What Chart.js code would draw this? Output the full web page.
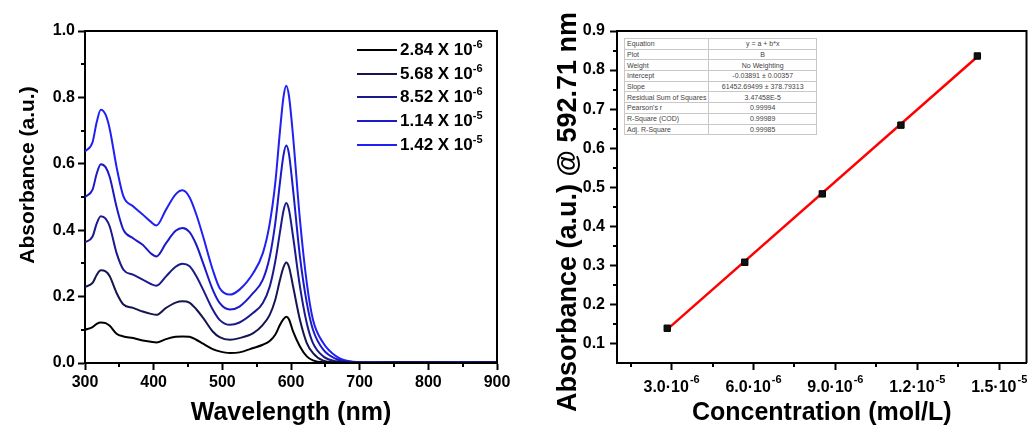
<!DOCTYPE html>
<html>
<head>
<meta charset="utf-8">
<title>UV-Vis spectra and calibration</title>
<script src="https://cdn.jsdelivr.net/npm/chart.js@4.4.1/dist/chart.umd.min.js"></script>
<style>
  body { margin: 0; background: #fff; font-family: 'Liberation Sans', Arial, sans-serif; }
  #wrap { position: relative; width: 1032px; height: 428px; overflow: hidden; background: #fff; }
  canvas { position: absolute; top: 0; }
  #spectraChart { left: 0; }
  #calibChart { left: 516px; }
  #legend { position: absolute; left: 357px; top: 38px; font-weight: bold; font-size: 17px; color: #000; }
  .legend-row { display: flex; align-items: center; height: 23.75px; }
  .legend-line { width: 40px; height: 2px; margin-right: 3px; }
  .legend-row sup { font-size: 11px; line-height: 0; }
  #fitTable { position: absolute; left: 624px; top: 38px; width: 193px; border-collapse: collapse;
              font-size: 7px; color: #444; background: #fff; }
  #fitTable td { border: 1px solid #c8c8c8; height: 9.7px; padding: 0 2px; line-height: 9px; white-space: nowrap; }
  #fitTable td:last-child { text-align: center; width: 110px; }
</style>
</head>
<body>
<div id="wrap">
  <canvas id="spectraChart" width="516" height="428"></canvas>
  <canvas id="calibChart" width="516" height="428"></canvas>
  <div id="legend"></div>
  <table id="fitTable"></table>
</div>
<script>
// ---- Left panel: absorption spectra ----
const wavelengths = [300, 311, 317, 323, 330, 336, 346, 356, 370, 384, 396, 404, 418, 432, 442, 452, 462, 472, 486, 496,
                     511, 525, 545, 559, 569, 577, 584, 589, 593, 597, 603, 613, 623, 632, 647, 666, 690, 720, 780, 840, 900];

const abs284 = [0.100, 0.108, 0.118, 0.122, 0.120, 0.112, 0.088, 0.080, 0.075, 0.068, 0.064, 0.062, 0.072, 0.079, 0.080, 0.079, 0.070, 0.058, 0.042, 0.035,
                0.030, 0.032, 0.045, 0.055, 0.066, 0.085, 0.115, 0.132, 0.139, 0.132, 0.095, 0.050, 0.020, 0.008, 0.002, 0.001, 0.000, 0.000, 0.001, 0.000, 0.001];
const abs568 = [0.229, 0.241, 0.265, 0.279, 0.276, 0.261, 0.211, 0.176, 0.166, 0.155, 0.148, 0.145, 0.166, 0.182, 0.186, 0.182, 0.162, 0.136, 0.095, 0.078,
                0.070, 0.075, 0.090, 0.115, 0.145, 0.190, 0.251, 0.288, 0.303, 0.290, 0.231, 0.130, 0.060, 0.030, 0.007, 0.002, 0.001, 0.001, 0.001, 0.001, 0.001];
const abs852 = [0.363, 0.381, 0.420, 0.442, 0.435, 0.411, 0.331, 0.281, 0.266, 0.251, 0.238, 0.233, 0.261, 0.290, 0.299, 0.292, 0.262, 0.221, 0.161, 0.130,
                0.115, 0.122, 0.151, 0.181, 0.230, 0.305, 0.395, 0.458, 0.482, 0.462, 0.381, 0.231, 0.120, 0.060, 0.020, 0.005, 0.002, 0.001, 0.002, 0.001, 0.002];
const abs1140 = [0.500, 0.522, 0.570, 0.599, 0.590, 0.560, 0.470, 0.401, 0.376, 0.356, 0.330, 0.321, 0.361, 0.398, 0.407, 0.395, 0.357, 0.301, 0.221, 0.181,
                 0.161, 0.170, 0.211, 0.251, 0.320, 0.420, 0.545, 0.625, 0.655, 0.630, 0.522, 0.321, 0.181, 0.100, 0.040, 0.012, 0.003, 0.002, 0.002, 0.002, 0.002];
const abs1420 = [0.637, 0.665, 0.725, 0.763, 0.748, 0.705, 0.590, 0.502, 0.472, 0.447, 0.425, 0.414, 0.462, 0.508, 0.520, 0.500, 0.448, 0.381, 0.281, 0.226,
                 0.206, 0.221, 0.271, 0.331, 0.420, 0.540, 0.700, 0.800, 0.835, 0.805, 0.683, 0.432, 0.241, 0.130, 0.060, 0.020, 0.004, 0.002, 0.002, 0.003, 0.002];

const spectra = [abs284, abs568, abs852, abs1140, abs1420];
const concMantissa = ['2.84', '5.68', '8.52', '1.14', '1.42'];
const concExponent = ['-6', '-6', '-6', '-5', '-5'];
const seriesColors = ['#000000', '#15154f', '#1a1a8c', '#1a1ac8', '#2020f5'];

const spectraTicksX = [300, 400, 500, 600, 700, 800, 900];
const spectraMinorX = [350, 450, 550, 650, 750, 850];
const spectraTicksY = [0, 0.2, 0.4, 0.6, 0.8, 1.0];
const spectraMinorY = [0.1, 0.3, 0.5, 0.7, 0.9];

// ---- Right panel: calibration at 592.71 nm ----
const concValues = [2.84e-6, 5.68e-6, 8.52e-6, 1.14e-5, 1.42e-5];
const peakAbs = [0.139, 0.308, 0.483, 0.659, 0.836];
const fitX = [2.84e-6, 1.42e-5];
const fitY = [0.136, 0.834];

const calibTicksX = [3e-6, 6e-6, 9e-6, 1.2e-5, 1.5e-5];
const calibMinorX = [1.5e-6, 4.5e-6, 7.5e-6, 1.05e-5, 1.35e-5];
const calibTicksY = [0.1, 0.2, 0.3, 0.4, 0.5, 0.6, 0.7, 0.8, 0.9];
const calibMinorY = [0.15, 0.25, 0.35, 0.45, 0.55, 0.65, 0.75, 0.85];

const fitRows = [
    ['Equation', 'y = a + b*x'],
    ['Plot', 'B'],
    ['Weight', 'No Weighting'],
    ['Intercept', '-0.03891 \u00b1 0.00357'],
    ['Slope', '61452.69499 \u00b1 378.79313'],
    ['Residual Sum of Squares', '3.47458E-5'],
    ["Pearson's r", '0.99994'],
    ['R-Square (COD)', '0.99989'],
    ['Adj. R-Square', '0.99985']
];

const FONT = "'Liberation Sans', Arial, sans-serif";

document.addEventListener('DOMContentLoaded', function() {
    buildLegend();
    buildFitTable();
    initializeSpectraChart();
    initializeCalibChart();
});

// Box outline plus short minor ticks
const framePlugin = {
    id: 'frame',
    afterDraw(chart, args, opts) {
        const { ctx, chartArea: a, scales } = chart;
        ctx.save();
        ctx.strokeStyle = '#000';
        ctx.lineWidth = 2;
        ctx.beginPath();
        ctx.moveTo(a.left, a.top);
        ctx.lineTo(a.right, a.top);
        ctx.lineTo(a.right, a.bottom);
        (opts.minorX || []).forEach(v => {
            const px = Math.round(scales.x.getPixelForValue(v));
            ctx.moveTo(px, a.bottom);
            ctx.lineTo(px, a.bottom + 4);
        });
        (opts.minorY || []).forEach(v => {
            const py = Math.round(scales.y.getPixelForValue(v));
            ctx.moveTo(a.left, py);
            ctx.lineTo(a.left - 4, py);
        });
        ctx.stroke();
        ctx.restore();
    }
};

// Rotated y axis title
const yTitlePlugin = {
    id: 'yTitle',
    afterDraw(chart, args, opts) {
        const ctx = chart.ctx;
        ctx.save();
        ctx.translate(opts.x, opts.y);
        ctx.rotate(-Math.PI / 2);
        ctx.font = opts.font;
        ctx.fillStyle = '#000';
        ctx.textAlign = 'center';
        ctx.textBaseline = 'alphabetic';
        ctx.fillText(opts.text, 0, 0);
        ctx.restore();
    }
};

// x tick labels written as m.m·10 with a raised exponent
const sciTickPlugin = {
    id: 'sciTicks',
    afterDraw(chart, args, opts) {
        if (!opts.values) return;
        const { ctx, chartArea: a, scales } = chart;
        ctx.save();
        ctx.fillStyle = '#000';
        ctx.textAlign = 'left';
        ctx.textBaseline = 'alphabetic';
        opts.values.forEach(v => {
            const exp = Math.floor(Math.log10(v));
            const base = (v / Math.pow(10, exp)).toFixed(1) + '\u00b710';
            const sup = String(exp);
            ctx.font = 'bold 16px ' + FONT;
            const wb = ctx.measureText(base).width;
            ctx.font = 'bold 11px ' + FONT;
            const ws = ctx.measureText(sup).width;
            const x0 = scales.x.getPixelForValue(v) - (wb + ws + 1) / 2;
            const y = a.bottom + opts.baseline;
            ctx.font = 'bold 16px ' + FONT;
            ctx.fillText(base, x0, y);
            ctx.font = 'bold 11px ' + FONT;
            ctx.fillText(sup, x0 + wb + 1, y - 9);
        });
        ctx.restore();
    }
};

function setTicks(values) {
    return function(scale) {
        scale.ticks = values.map(v => ({ value: v }));
    };
}

function buildLegend() {
    const legend = document.getElementById('legend');
    concMantissa.forEach((m, i) => {
        const row = document.createElement('div');
        row.className = 'legend-row';
        row.innerHTML = `<span class="legend-line" style="background:${seriesColors[i]}"></span>` +
                        `<span>${m} X 10<sup>${concExponent[i]}</sup></span>`;
        legend.appendChild(row);
    });
}

function buildFitTable() {
    const table = document.getElementById('fitTable');
    fitRows.forEach(r => {
        const tr = document.createElement('tr');
        tr.innerHTML = `<td>${r[0]}</td><td>${r[1]}</td>`;
        table.appendChild(tr);
    });
}

function axisCommon(extra) {
    return Object.assign({
        type: 'linear',
        grid: { drawOnChartArea: false, drawTicks: true, tickLength: 7, tickWidth: 2, tickColor: '#000' },
        border: { display: true, color: '#000', width: 2 }
    }, extra);
}

function initializeSpectraChart() {
    const ctx = document.getElementById('spectraChart');
    new Chart(ctx, {
        type: 'line',
        data: {
            datasets: spectra.map((s, i) => ({
                label: concMantissa[i] + ' X 10^' + concExponent[i],
                data: wavelengths.map((w, j) => ({ x: w, y: s[j] })),
                borderColor: seriesColors[i],
                borderWidth: 2,
                pointRadius: 0,
                cubicInterpolationMode: 'monotone',
                fill: false
            }))
        },
        options: {
            responsive: false,
            animation: false,
            layout: { padding: { top: 31, right: 19, left: 0, bottom: 0 } },
            plugins: {
                legend: { display: false },
                tooltip: { enabled: false },
                frame: { minorX: spectraMinorX, minorY: spectraMinorY },
                yTitle: { text: 'Absorbance (a.u.)', x: 34, y: 175, font: 'bold 21px ' + FONT }
            },
            scales: {
                x: axisCommon({
                    min: 300, max: 900,
                    afterBuildTicks: setTicks(spectraTicksX),
                    afterFit: s => { s.height = 65; s.paddingLeft = 0; s.paddingRight = 0; },
                    ticks: { color: '#000', padding: 3, font: { family: FONT, size: 16, weight: 'bold' } },
                    title: { display: true, text: 'Wavelength (nm)', color: '#000', padding: 0,
                             font: { family: FONT, size: 25, weight: 'bold' } }
                }),
                y: axisCommon({
                    min: 0, max: 1,
                    afterBuildTicks: setTicks(spectraTicksY),
                    afterFit: s => { s.width = 85; s.paddingTop = 0; s.paddingBottom = 0; },
                    ticks: { color: '#000', padding: 3, font: { family: FONT, size: 16, weight: 'bold' },
                             callback: v => v.toFixed(1) }
                })
            }
        },
        plugins: [framePlugin, yTitlePlugin]
    });
}

function initializeCalibChart() {
    const ctx = document.getElementById('calibChart');
    new Chart(ctx, {
        type: 'scatter',
        data: {
            datasets: [{
                label: 'Absorbance @ 592.71 nm',
                data: concValues.map((c, i) => ({ x: c, y: peakAbs[i] })),
                pointStyle: 'rect',
                pointRadius: 4.5,
                backgroundColor: '#111',
                borderColor: '#000',
                borderWidth: 1,
                order: 0
            }, {
                label: 'Linear fit',
                data: fitX.map((x, i) => ({ x: x, y: fitY[i] })),
                showLine: true,
                borderColor: '#ff0000',
                borderWidth: 2.5,
                pointRadius: 0,
                order: 1
            }]
        },
        options: {
            responsive: false,
            animation: false,
            layout: { padding: { top: 31, right: 4, left: 0, bottom: 0 } },
            plugins: {
                legend: { display: false },
                tooltip: { enabled: false },
                frame: { minorX: calibMinorX, minorY: calibMinorY },
                yTitle: { text: 'Absorbance (a.u.) @ 592.71 nm', x: 60, y: 212, font: 'bold 27px ' + FONT },
                sciTicks: { values: calibTicksX, baseline: 29 }
            },
            scales: {
                x: axisCommon({
                    min: 1e-6, max: 1.6e-5,
                    afterBuildTicks: setTicks(calibTicksX),
                    afterFit: s => { s.height = 65; s.paddingLeft = 0; s.paddingRight = 0; },
                    ticks: { color: '#000', padding: 3, font: { family: FONT, size: 16, weight: 'bold' },
                             callback: () => '' },
                    title: { display: true, text: 'Concentration (mol/L)', color: '#000', padding: 0,
                             font: { family: FONT, size: 25, weight: 'bold' } }
                }),
                y: axisCommon({
                    min: 0.05, max: 0.9,
                    afterBuildTicks: setTicks(calibTicksY),
                    afterFit: s => { s.width = 101; s.paddingTop = 0; s.paddingBottom = 0; },
                    ticks: { color: '#000', padding: 5, font: { family: FONT, size: 16, weight: 'bold' },
                             callback: v => v.toFixed(1) }
                })
            }
        },
        plugins: [framePlugin, yTitlePlugin, sciTickPlugin]
    });
}
</script>
</body>
</html>
